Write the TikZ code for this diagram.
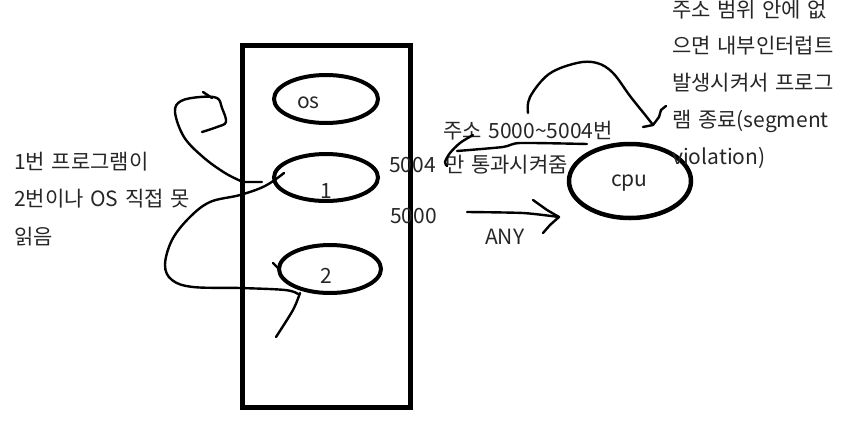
\documentclass[tikz,border=0pt]{standalone}
\usepackage{fontspec}
\setmainfont{Noto Sans CJK KR}[WordSpace=1.4]
\usetikzlibrary{shapes.geometric}
\begin{document}
\begin{tikzpicture}[x=1pt,y=-1pt,
  txt/.style={anchor=base west,inner sep=0pt,font=\fontsize{21}{24}\selectfont,text=black!85},
  oval/.style={ellipse,draw,line width=4pt,inner sep=0pt},
  pen/.style={line width=2.4pt,line cap=round,line join=round},
  box/.style={draw,line width=5pt}]
\useasboundingbox (0,0) rectangle (867,442);
% memory box
\node[box,minimum width=168pt,minimum height=362pt,inner sep=0pt] (mem) at (326.5,226.5) {};
% ellipses
\node[oval,minimum width=104pt,minimum height=48pt] (os) at (326,99) {};
\node[oval,minimum width=104pt,minimum height=47pt] (p1) at (326,177.5) {};
\node[oval,minimum width=102pt,minimum height=48pt] (p2) at (330,269) {};
\node[oval,line width=4.5pt,minimum width=122pt,minimum height=74pt] (cpu) at (630,181) {};
% labels
\node[txt] (tos) at (297,108) {os};
\node[txt] (t1) at (320,198) {1};
\node[txt] (t2) at (320,283) {2};
\node[txt] (tcpu) at (611,186) {cpu};
\node[txt] (l1) at (14,169) {1번 프로그램이};
\node[txt] (l2) at (14,206) {2번이나 OS 직접 못};
\node[txt] (l3) at (14,244) {읽음};
\node[txt] (n5004) at (389,172) {5004};
\node[txt] (n5000) at (390,223) {5000};
\node[txt] (any) at (485,244) {ANY};
\node[txt] (m1) at (443,138) {주소 5000\textasciitilde 5004번};
\node[txt] (m2) at (445,172) {만 통과시켜줌};
\node[txt] (r1) at (672,17) {주소 범위 안에 없};
\node[txt] (r2) at (672,53) {으면 내부인터럽트};
\node[txt] (r3) at (672,90) {발생시켜서 프로그};
\node[txt] (r4) at (672,127) {램 종료(segment};
\node[txt] (r5) at (672,164) {violation)};
% freehand strokes
\coordinate (a1) at (262,182);
\draw[pen] (a1) -- (243,182) plot[smooth,tension=0.6] coordinates {(243,182)(225,173)(203,157)(184,137)(175,112)(181,101)(200,97)(217,98)(222,108)(226,122)(217,127)(202,132)};
\draw[pen] (203,92) -- (212,98);
\coordinate (b1) at (284,173);
\draw[pen] plot[smooth,tension=0.6] coordinates {(284,173)(265,186)(240,195)(210,202)(189,218)(172,240)(165,265)(172,280)(193,287)(240,288)(285,290)(298,294)};
\draw[pen] (273,263) -- (279,269);
\draw[pen] plot[smooth,tension=0.5] coordinates {(300,293)(293,310)(276,337)};
% arc to right text
\draw[pen] plot[smooth,tension=0.6] coordinates {(528,113)(530,97)(549,74)(577,63)(597,63)(613,73)(630,96)(646,116)(653,125)};
\draw[pen] (643,127) -- (653,125) -- (659,117) -- (661,110) -- (666,106);
% 5000 arrow
\draw[pen] plot[smooth,tension=0.4] coordinates {(467,212)(523,213)(559,217)};
\draw[pen] (533,200) -- (547,210) -- (559,217) -- (550,225) -- (543,233);
% 5004 arrow
\draw[pen] plot[smooth,tension=0.4] coordinates {(587,144)(520,143)(503,147)(457,151)};
\draw[pen] plot[smooth,tension=0.5] coordinates {(473,135)(460,143)(450,153)(445,162)(447,166)};
\end{tikzpicture}
\end{document}
